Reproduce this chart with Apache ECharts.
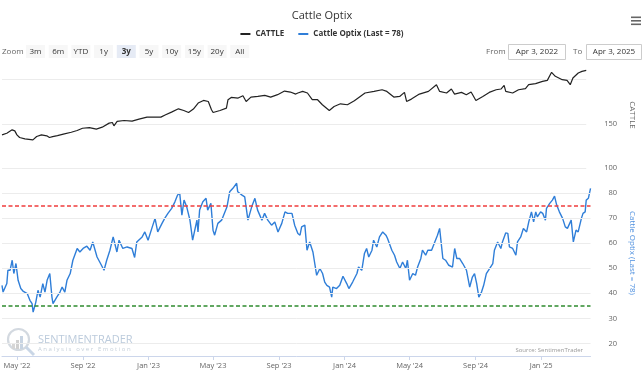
<!DOCTYPE html>
<html>
<head>
<meta charset="UTF-8">
<title>Cattle Optix</title>
<script src="https://cdn.jsdelivr.net/npm/echarts@6/dist/echarts.min.js"></script>
<style>html,body{margin:0;padding:0;background:#fff;}</style>
</head>
<body>
<div id="chart" style="width:644px;height:376px;"></div>
<script>
// CATTLE (top panel)
const cattleDates = [
  '2022-04-03','2022-04-12','2022-04-22','2022-04-27','2022-05-01','2022-05-06','2022-05-16','2022-05-31',
  '2022-06-07','2022-06-16','2022-06-26','2022-07-01','2022-07-07','2022-07-16','2022-07-29','2022-08-11',
  '2022-08-22','2022-09-01','2022-09-14','2022-09-27','2022-10-08','2022-10-21','2022-10-27','2022-10-30',
  '2022-11-05','2022-11-18','2022-12-03','2022-12-16','2022-12-31','2023-01-13','2023-01-26','2023-02-04',
  '2023-02-15','2023-02-28','2023-03-10','2023-03-19','2023-03-28','2023-04-06','2023-04-16','2023-04-25',
  '2023-05-01','2023-05-04','2023-05-17','2023-05-29','2023-06-01','2023-06-07','2023-06-20','2023-06-29',
  '2023-07-05','2023-07-14','2023-07-27','2023-08-09','2023-08-20','2023-09-02','2023-09-15','2023-09-26',
  '2023-10-06','2023-10-10','2023-10-19','2023-10-28','2023-11-06','2023-11-16','2023-11-25','2023-12-08',
  '2023-12-17','2023-12-29','2024-01-11','2024-01-24','2024-02-04','2024-02-13','2024-03-01','2024-03-16',
  '2024-03-25','2024-04-07','2024-04-18','2024-04-27','2024-05-01','2024-05-10','2024-05-25','2024-06-11',
  '2024-06-26','2024-07-02','2024-07-15','2024-07-24','2024-07-30','2024-08-12','2024-08-21','2024-08-30',
  '2024-09-08','2024-09-21','2024-10-03','2024-10-16','2024-10-25','2024-10-31','2024-11-03','2024-11-16',
  '2024-11-27','2024-12-10','2024-12-16','2024-12-29','2025-01-11','2025-01-20','2025-01-28','2025-02-04',
  '2025-02-17','2025-02-26','2025-03-04','2025-03-09','2025-03-19','2025-03-26','2025-04-03'
];
const cattleValues = [
  137.5,139.4,143.2,142,137.5,134.5,133,131.8,
  135.6,137.5,136.4,134.5,135.6,136.7,138.6,140.5,
  142.4,145,145.8,144,146.2,150.8,151.5,147.7,
  152.7,153.8,153,155.3,157.6,157.6,157.6,160.2,
  163.3,167,165.1,162.8,166.7,173.5,176.5,175.3,
  165.9,162.8,165.1,167.8,177.3,179.9,179.2,181.8,
  175.3,180.3,181,182.2,180.3,183,187.1,186,
  183.7,184.9,186.7,184.9,177.3,177.3,171.6,165.1,
  169.7,172.7,171.6,176.1,181,184.9,186.7,188.6,
  186.7,180.3,181,185.6,175.3,178,183.7,186.7,
  194.3,186.7,184.9,189.4,183.7,185.6,183,186,
  176.5,181,185.6,188.6,189.4,193.5,186.7,184.9,
  188.6,189.8,194.3,195.5,198,199.2,208.3,203.8,
  200,199.2,194.3,201.9,207.6,209.4,210.6
];

// Cattle Optix (bottom panel)
const optixDates = [
  '2022-04-03','2022-04-05','2022-04-12','2022-04-14','2022-04-18','2022-04-22','2022-04-25','2022-04-29',
  '2022-05-03','2022-05-08','2022-05-12','2022-05-20','2022-05-25','2022-05-29','2022-05-31','2022-06-05',
  '2022-06-09','2022-06-13','2022-06-18','2022-06-22','2022-06-26','2022-07-01','2022-07-05','2022-07-07',
  '2022-07-14','2022-07-20','2022-07-24','2022-07-29','2022-08-02','2022-08-08','2022-08-13','2022-08-21',
  '2022-08-26','2022-09-01','2022-09-08','2022-09-14','2022-09-19','2022-09-27','2022-10-02','2022-10-10',
  '2022-10-15','2022-10-21','2022-10-27','2022-11-03','2022-11-07','2022-11-14','2022-11-22','2022-12-01',
  '2022-12-06','2022-12-10','2022-12-20','2022-12-25','2022-12-31','2023-01-07','2023-01-13','2023-01-18',
  '2023-01-26','2023-01-31','2023-02-06','2023-02-13','2023-02-19','2023-02-24','2023-02-28','2023-03-04',
  '2023-03-08','2023-03-13','2023-03-19','2023-03-24','2023-04-01','2023-04-03','2023-04-06','2023-04-12',
  '2023-04-18','2023-04-21','2023-04-27','2023-05-01','2023-05-04','2023-05-10','2023-05-17','2023-05-27',
  '2023-06-01','2023-06-07','2023-06-14','2023-06-16','2023-06-24','2023-06-29','2023-07-05','2023-07-12',
  '2023-07-18','2023-07-23','2023-07-31','2023-08-05','2023-08-11','2023-08-18','2023-08-24','2023-08-30',
  '2023-09-06','2023-09-12','2023-09-17','2023-09-25','2023-09-30','2023-10-06','2023-10-10','2023-10-13',
  '2023-10-19','2023-10-23','2023-10-28','2023-11-03','2023-11-06','2023-11-10','2023-11-16','2023-11-21',
  '2023-11-25','2023-11-29','2023-12-04','2023-12-08','2023-12-10','2023-12-17','2023-12-23','2023-12-29',
  '2024-01-05','2024-01-09','2024-01-16','2024-01-24','2024-01-27','2024-02-02','2024-02-07','2024-02-11',
  '2024-02-15','2024-02-21','2024-02-24','2024-03-01','2024-03-06','2024-03-12','2024-03-18','2024-03-21',
  '2024-03-29','2024-04-03','2024-04-07','2024-04-13','2024-04-18','2024-04-24','2024-04-27','2024-05-01',
  '2024-05-07','2024-05-12','2024-05-16','2024-05-22','2024-05-25','2024-05-31','2024-06-04','2024-06-11',
  '2024-06-17','2024-06-22','2024-06-26','2024-07-02','2024-07-07','2024-07-13','2024-07-20','2024-07-24',
  '2024-07-28','2024-08-02','2024-08-08','2024-08-15','2024-08-21','2024-08-26','2024-08-30','2024-09-03',
  '2024-09-07','2024-09-12','2024-09-16','2024-09-21','2024-09-27','2024-10-03','2024-10-06','2024-10-12',
  '2024-10-18','2024-10-21','2024-10-27','2024-10-31','2024-11-03','2024-11-09','2024-11-15','2024-11-18',
  '2024-11-24','2024-11-29','2024-12-05','2024-12-09','2024-12-14','2024-12-18','2024-12-22','2024-12-25',
  '2024-12-31','2025-01-04','2025-01-09','2025-01-11','2025-01-17','2025-01-22','2025-01-26','2025-01-30',
  '2025-02-04','2025-02-10','2025-02-15','2025-02-19','2025-02-26','2025-03-02','2025-03-07','2025-03-11',
  '2025-03-17','2025-03-20','2025-03-24','2025-03-26','2025-03-30','2025-04-03'
];
const optixValues = [
  43.2,40.5,43.9,49.2,49.2,53.2,47.9,51.9,
  45.2,41.9,40.9,39.9,37.2,35.9,32.5,36.5,
  41.2,38.5,43.9,40.5,45.2,47.9,38.5,35.9,
  38.5,40.5,42.5,40.5,45.2,47.9,53.2,57.9,
  56.5,57.9,58.8,57.2,60.5,54.5,52.5,49.2,
  53.2,57.2,62.5,56.5,61.2,57.9,58.5,57.9,
  54.3,60.5,62.5,64.5,61.2,65.9,69.9,64.5,
  67.9,69.9,71.9,73.9,76.5,79.2,79.9,71.2,
  77.2,74.5,69.2,61.2,69.2,64.5,73.2,76.5,
  77.9,73.2,75.9,65.2,63.2,67.9,69.2,74.5,
  80.5,81.9,83.9,80.5,79.2,78.5,69.2,74.5,
  77.9,73.2,69.2,71.9,69.2,67.2,68.5,64.5,
  67.9,72.5,71.9,71.9,67.2,63.9,63.2,66.5,
  67.2,57.2,60.5,56.5,52.5,47.2,49.9,47.9,
  44.5,43.2,42.5,38.5,42.5,41.9,43.2,46.8,
  43.9,41.9,44.5,47.9,50.5,49.2,55.9,57.9,
  54.5,57.2,61.2,58.5,62.5,64.5,63.2,61.9,
  57.2,55.2,52.5,49.9,52.5,49.9,53.2,45.2,
  47.9,47.2,50.5,53.9,57.2,55.2,57.2,57.2,
  60.5,63.2,65.9,53.9,53.2,51.2,50.5,57.9,
  53.9,53.9,51.9,49.2,42.5,46.5,47.9,43.9,
  38.5,40.5,43.2,47.9,49.9,51.9,57.2,60.5,
  57.9,60.5,64.1,63.9,58.5,57.9,55.2,60.5,
  62.5,65.9,64.5,68.5,72.5,68.5,72.5,70.5,
  72.5,71.9,69.2,73.9,75.9,77.2,78.8,75.2,
  72.5,69.9,66.5,65.9,69.2,60.5,65.2,64.5,
  69.9,71.9,72.5,77.2,77.9,81.9
];

// reference lines on the Optix panel
const upperThreshold = 75;
const lowerThreshold = 35;
const optixGridValues = [20, 30, 40, 50, 60, 70, 80];

// x axis ticks
const tickDates = ['2022-05-01','2022-09-01','2023-01-01','2023-05-01','2023-09-01','2024-01-01','2024-05-01','2024-09-01','2025-01-01'];
const tickLabels = ["May '22","Sep '22","Jan '23","May '23","Sep '23","Jan '24","May '24","Sep '24","Jan '25"];

const zoomButtons = ['3m','6m','YTD','1y','3y','5y','10y','15y','20y','All'];
const fromDate = 'Apr 3, 2022';
const toDate = 'Apr 3, 2025';

const FONT = "'Open Sans', sans-serif";
const toTime = s => { const p = s.split('-').map(Number); return new Date(p[0], p[1] - 1, p[2]).getTime(); };
const startTime = toTime('2022-04-03');
const endTime = toTime('2025-04-03');
const tickTimes = tickDates.map(toTime);

const cattleData = cattleDates.map((d, i) => [toTime(d), cattleValues[i]]);
const optixData = optixDates.map((d, i) => [toTime(d), optixValues[i]]);

// range selector / header bits drawn as graphic
const graphics = [];
graphics.push({ type: 'text', x: 2, y: 51.5, style: { text: 'Zoom', font: '8px ' + FONT, fill: '#666', verticalAlign: 'middle' } });
zoomButtons.forEach((b, i) => {
  const x = 26 + i * 22.7;
  graphics.push({ type: 'rect', shape: { x: x, y: 45, width: 19, height: 13 },
    style: { fill: b === '3y' ? '#e6ebf5' : '#f7f7f7' } });
  graphics.push({ type: 'text', x: x + 9.5, y: 51.5,
    style: { text: b, font: (b === '3y' ? 'bold ' : '') + '8px ' + FONT, fill: '#333',
      align: 'center', verticalAlign: 'middle' } });
});
graphics.push({ type: 'text', x: 486, y: 51.5, style: { text: 'From', font: '8px ' + FONT, fill: '#666', verticalAlign: 'middle' } });
graphics.push({ type: 'rect', shape: { x: 508.5, y: 44.5, width: 57, height: 15 }, style: { fill: '#fff', stroke: '#ccc', lineWidth: 1 } });
graphics.push({ type: 'text', x: 537, y: 52, style: { text: fromDate, font: '8px ' + FONT, fill: '#333', align: 'center', verticalAlign: 'middle' } });
graphics.push({ type: 'text', x: 573, y: 51.5, style: { text: 'To', font: '8px ' + FONT, fill: '#666', verticalAlign: 'middle' } });
graphics.push({ type: 'rect', shape: { x: 586.5, y: 44.5, width: 55, height: 15 }, style: { fill: '#fff', stroke: '#ccc', lineWidth: 1 } });
graphics.push({ type: 'text', x: 614, y: 52, style: { text: toDate, font: '8px ' + FONT, fill: '#333', align: 'center', verticalAlign: 'middle' } });
// menu icon
[16.5, 20, 23.5].forEach(y => {
  graphics.push({ type: 'rect', shape: { x: 631, y: y, width: 10, height: 1.6 }, style: { fill: '#666' } });
});
// watermark
graphics.push({ type: 'circle', shape: { cx: 18.5, cy: 339.5, r: 10.5 }, style: { fill: 'none', stroke: '#d3d9e0', lineWidth: 2.2 } });
graphics.push({ type: 'line', shape: { x1: 26, y1: 347, x2: 34, y2: 355 }, style: { stroke: '#c9d6e6', lineWidth: 3 } });
graphics.push({ type: 'rect', shape: { x: 12, y: 343, width: 3, height: 6 }, style: { fill: '#d6d6d6' } });
graphics.push({ type: 'rect', shape: { x: 16, y: 340, width: 3, height: 9 }, style: { fill: '#d0d0d0' } });
graphics.push({ type: 'rect', shape: { x: 20, y: 336, width: 3, height: 13 }, style: { fill: '#c8d4e2' } });
graphics.push({ type: 'text', x: 38, y: 340, style: { text: 'SENTIMENTRADER', font: '11px ' + FONT, fill: '#bccbdc', verticalAlign: 'middle' } });
graphics.push({ type: 'text', x: 38, y: 349.5, style: { text: 'A n a l y s i s   o v e r   E m o t i o n', font: '6px ' + FONT, fill: '#c6d0da', verticalAlign: 'middle' } });
graphics.push({ type: 'text', x: 583, y: 350, style: { text: 'Source: SentimenTrader', font: '6px ' + FONT, fill: '#999', align: 'right', verticalAlign: 'middle' } });

const gridLine = { color: '#ececec', width: 1, type: 'solid' };
const optixMarkLines = optixGridValues.map(v => ({ yAxis: v, lineStyle: gridLine }));
optixMarkLines.push({ yAxis: upperThreshold, lineStyle: { color: '#f03c3c', width: 1.5, type: [4, 2.5] } });
optixMarkLines.push({ yAxis: lowerThreshold, lineStyle: { color: '#2e8b2e', width: 1.5, type: [4, 2.5] } });

const myChart = echarts.init(document.getElementById('chart'));
const option = {
  animation: false,
  backgroundColor: '#fff',
  title: {
    text: 'Cattle Optix', left: 'center', top: 5,
    textStyle: { fontFamily: FONT, fontSize: 11, fontWeight: 'normal', color: '#333' }
  },
  legend: {
    top: 25, left: 'center', icon: 'rect', itemWidth: 10, itemHeight: 2, itemGap: 14,
    data: ['CATTLE', 'Cattle Optix (Last = 78)'],
    textStyle: { fontFamily: FONT, fontSize: 8, fontWeight: 'bold', color: '#333' }
  },
  graphic: graphics,
  grid: [
    { left: 2, right: 53, top: 62, height: 106 },
    { left: 2, right: 53, top: 168, height: 188 }
  ],
  xAxis: [
    { type: 'value', gridIndex: 0, min: startTime, max: endTime, show: false, splitLine: { show: false } },
    {
      type: 'value', gridIndex: 1, min: startTime, max: endTime,
      axisLine: { lineStyle: { color: '#ccd6eb', width: 1 } },
      axisTick: { customValues: tickTimes, length: 4, lineStyle: { color: '#ccd6eb' } },
      axisLabel: {
        customValues: tickTimes, margin: 6, fontFamily: FONT, fontSize: 7.5, color: '#666',
        formatter: v => { const i = tickTimes.indexOf(v); return i >= 0 ? tickLabels[i] : ''; }
      },
      splitLine: { show: false }
    }
  ],
  yAxis: [
    {
      type: 'value', gridIndex: 0, position: 'right', min: 100, max: 220, interval: 50,
      name: 'CATTLE', nameLocation: 'middle', nameRotate: -90, nameGap: 34,
      nameTextStyle: { fontFamily: FONT, fontSize: 8, color: '#666' },
      axisLine: { show: false }, axisTick: { show: false },
      axisLabel: { margin: 18, fontFamily: FONT, fontSize: 7.5, color: '#666', padding: [0, 0, 6, 0],
        formatter: v => (v === 100 || v === 150) ? String(v) : '' },
      splitLine: { lineStyle: { color: '#ececec' }, showMaxLine: false }
    },
    {
      type: 'value', gridIndex: 1, position: 'right', min: 15, max: 90, interval: 5,
      name: 'Cattle Optix (Last = 78)', nameLocation: 'middle', nameRotate: -90, nameGap: 31,
      nameTextStyle: { fontFamily: FONT, fontSize: 8, color: '#4d8fdf', padding: [0, 18, 0, 0] },
      axisLine: { show: false }, axisTick: { show: false },
      axisLabel: { margin: 18, fontFamily: FONT, fontSize: 7.5, color: '#666', padding: [0, 0, 7, 0],
        formatter: v => (v % 10 === 0 && v >= 20 && v <= 80) ? String(v) : '' },
      splitLine: { show: false }
    }
  ],
  series: [
    {
      name: 'CATTLE', type: 'line', xAxisIndex: 0, yAxisIndex: 0, data: cattleData,
      symbol: 'none', lineStyle: { color: '#222', width: 1.2 }, itemStyle: { color: '#222' }
    },
    {
      name: 'Cattle Optix (Last = 78)', type: 'line', xAxisIndex: 1, yAxisIndex: 1, data: optixData,
      symbol: 'none', z: 3, lineStyle: { color: '#2f7ed8', width: 1.4 }, itemStyle: { color: '#2f7ed8' },
      markLine: { silent: true, symbol: ['none', 'none'], label: { show: false }, data: optixMarkLines }
    }
  ]
};
myChart.setOption(option);
</script>
</body>
</html>
